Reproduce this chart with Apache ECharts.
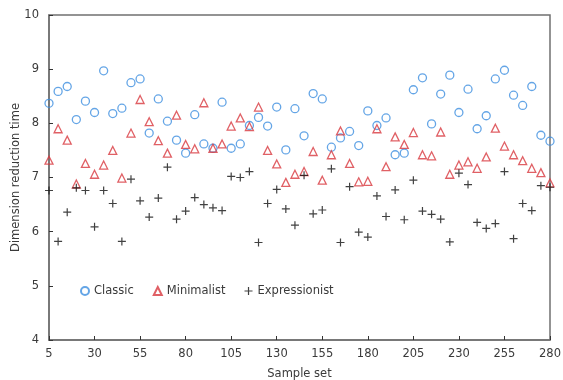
<!DOCTYPE html>
<html>
<head>
<meta charset="utf-8">
<script src="https://cdn.jsdelivr.net/npm/echarts@6/dist/echarts.min.js"></script>
<style>html,body{margin:0;padding:0;background:#fff;overflow:hidden;}#c{width:563px;height:380px;}</style>
</head>
<body>
<div id="c"></div>
<script>
var samples = [5,10,15,20,25,30,35,40,45,50,55,60,65,70,75,80,85,90,95,100,105,110,115,120,125,130,135,140,145,150,155,160,165,170,175,180,185,190,195,200,205,210,215,220,225,230,235,240,245,250,255,260,265,270,275,280];
var classic = [8.37,8.59,8.68,8.07,8.41,8.20,8.97,8.18,8.28,8.75,8.82,7.82,8.45,8.04,7.69,7.45,8.16,7.62,7.54,8.39,7.54,7.62,7.96,8.11,7.95,8.30,7.51,8.27,7.77,8.55,8.45,7.56,7.73,7.85,7.59,8.23,7.96,8.10,7.42,7.45,8.62,8.84,7.99,8.54,8.89,8.20,8.63,7.90,8.14,8.82,8.98,8.52,8.33,8.68,7.78,7.67];
var minimalist = [7.32,7.90,7.69,6.88,7.26,7.06,7.23,7.50,6.99,7.82,8.44,8.03,7.68,7.45,8.15,7.61,7.53,8.38,7.54,7.62,7.95,8.10,7.94,8.30,7.50,7.25,6.91,7.06,7.11,7.48,6.95,7.42,7.86,7.26,6.92,6.93,7.90,7.20,7.75,7.61,7.83,7.42,7.40,7.84,7.06,7.23,7.29,7.17,7.38,7.91,7.58,7.42,7.31,7.17,7.09,6.90];
var expressionist = [6.76,5.82,6.36,6.81,6.76,6.09,6.76,6.52,5.82,6.97,6.57,6.27,6.62,7.19,6.23,6.38,6.63,6.50,6.44,6.39,7.02,7.00,7.11,5.80,6.52,6.78,6.42,6.12,7.04,6.33,6.40,7.16,5.80,6.83,5.99,5.90,6.66,6.28,6.77,6.22,6.95,6.38,6.32,6.23,5.81,7.08,6.87,6.17,6.06,6.15,7.11,5.87,6.52,6.39,6.85,6.82];
var seriesNames = ['Classic','Minimalist','Expressionist'];

var font = 'DejaVu Sans';
var txt = '#3a3a3a';
var axisCol = '#707070';
var plus = 'path://M4.25,0H5.75V4.25H10V5.75H5.75V10H4.25V5.75H0V4.25H4.25Z';

var chart = echarts.init(document.getElementById('c'), null, {renderer:'canvas'});
chart.setOption({
  animation: false,
  backgroundColor: '#ffffff',
  textStyle: {fontFamily: font},
  grid: {left: 49, right: 13, top: 15, bottom: 40, show: true, borderColor: axisCol, borderWidth: 1.5, containLabel: false, outerBoundsMode: 'none'},
  legend: {
    left: 75, top: 280, itemWidth: 8, itemHeight: 8, itemGap: 19,
    textStyle: {fontFamily: font, fontSize: 11.5, color: txt},
    data: seriesNames
  },
  xAxis: {
    type: 'category', data: samples.map(String), boundaryGap: false,
    name: 'Sample set', nameLocation: 'middle', nameGap: 28,
    nameTextStyle: {fontFamily: font, fontSize: 11.5, color: txt},
    axisLine: {show: true, lineStyle: {color: axisCol, width: 1.5}},
    axisTick: {show: true, inside: true, length: 4, interval: 4, alignWithLabel: true, lineStyle: {color: '#333'}},
    axisLabel: {fontFamily: font, fontSize: 11.5, color: txt, margin: 8, interval: 4, showMinLabel: true, showMaxLabel: true, hideOverlap: false},
    splitLine: {show: false}
  },
  yAxis: {
    type: 'value', min: 4, max: 10, interval: 1,
    name: 'Dimension reduction time', nameLocation: 'middle', nameGap: 27, nameRotate: 90, nameMoveOverlap: false,
    nameTextStyle: {fontFamily: font, fontSize: 11.5, color: txt},
    axisLine: {show: true, lineStyle: {color: axisCol, width: 1.5}},
    axisTick: {show: true, inside: true, length: 4, lineStyle: {color: '#333'}},
    axisLabel: {fontFamily: font, fontSize: 11.5, color: txt, margin: 10, showMinLabel: true, showMaxLabel: true, hideOverlap: false},
    splitLine: {show: false}
  },
  series: [
    {name: seriesNames[0], type: 'scatter', symbol: 'circle', symbolSize: 8,
     itemStyle: {color: 'rgba(255,255,255,0)', borderColor: '#3d8ee0', borderWidth: 1.3},
     data: classic},
    {name: seriesNames[1], type: 'scatter', symbol: 'triangle', symbolSize: 8,
     itemStyle: {color: 'rgba(255,255,255,0)', borderColor: '#d8383e', borderWidth: 1.3},
     data: minimalist},
    {name: seriesNames[2], type: 'scatter', symbol: plus, symbolSize: 8,
     itemStyle: {color: '#111111'},
     data: expressionist}
  ]
});
</script>
</body>
</html>
